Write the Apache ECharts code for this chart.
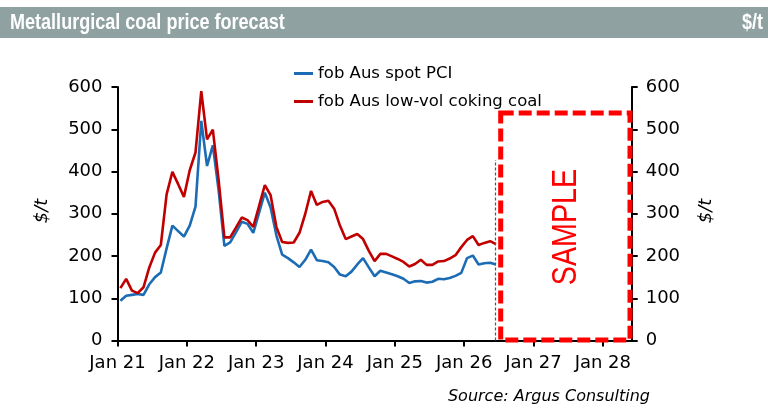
<!DOCTYPE html>
<html>
<head>
<meta charset="utf-8">
<script src="https://cdn.jsdelivr.net/npm/echarts@6/dist/echarts.min.js"></script>
<style>
  html, body { margin: 0; padding: 0; background: #fff; }
  #main { width: 768px; height: 408px; }
</style>
</head>
<body>
<div id="main"></div>
<script>
// monthly prices, Jan 21 - Jun 26 ($/t)
var months = [
    '2021-01','2021-02','2021-03','2021-04','2021-05','2021-06','2021-07','2021-08','2021-09','2021-10','2021-11','2021-12',
    '2022-01','2022-02','2022-03','2022-04','2022-05','2022-06','2022-07','2022-08','2022-09','2022-10','2022-11','2022-12',
    '2023-01','2023-02','2023-03','2023-04','2023-05','2023-06','2023-07','2023-08','2023-09','2023-10','2023-11','2023-12',
    '2024-01','2024-02','2024-03','2024-04','2024-05','2024-06','2024-07','2024-08','2024-09','2024-10','2024-11','2024-12',
    '2025-01','2025-02','2025-03','2025-04','2025-05','2025-06','2025-07','2025-08','2025-09','2025-10','2025-11','2025-12',
    '2026-01','2026-02','2026-03','2026-04','2026-05','2026-06'
];
var spotPCI = [
    94, 106, 108, 110, 108, 133, 150, 161, 218, 272, 259, 246,
    272, 317, 520, 413, 462, 356, 224, 232, 256, 281, 276, 255,
    302, 350, 315, 249, 203, 195, 185, 174, 191, 215, 190, 188,
    185, 174, 156, 152, 163, 180, 195, 173, 152, 165, 161, 157,
    152, 146, 136, 140, 141, 137, 139, 146, 145, 148, 153, 160,
    195, 201, 180, 183, 184, 180
];
var lowVolCoking = [
    124, 146, 118, 112, 126, 173, 208, 226, 346, 399, 370, 340,
    403, 445, 590, 476, 499, 380, 244, 244, 267, 291, 285, 269,
    318, 368, 344, 269, 233, 231, 232, 255, 300, 354, 321, 328,
    331, 312, 272, 240, 246, 252, 240, 212, 188, 205, 205, 199,
    193, 186, 175, 181, 191, 179, 179, 187, 188, 194, 202, 221,
    238, 247, 226, 231, 235, 228
];
var xTickLabels = ['Jan 21', 'Jan 22', 'Jan 23', 'Jan 24', 'Jan 25', 'Jan 26', 'Jan 27', 'Jan 28'];
var forecastStart = '2026-06';   // grey dashed divider

// month number counted from Jan 21, plotted mid-month
function monthPos(s) {
    var p = s.split('-');
    return (parseInt(p[0]) - 2021) * 12 + parseInt(p[1]) - 1 + 0.5;
}
var pciData = [], cokingData = [];
for (var i = 0; i < months.length; i++) {
    pciData.push([monthPos(months[i]), spotPCI[i]]);
    cokingData.push([monthPos(months[i]), lowVolCoking[i]]);
}
var divX = monthPos(forecastStart) - 0.2;

var FONT = 'DejaVu Sans';
var axisCommon = {
    axisLine: { show: true, lineStyle: { color: '#000', width: 2 } },
    axisTick: { show: true, length: 6, lineStyle: { color: '#000', width: 2 } },
    splitLine: { show: false }
};

var chart = echarts.init(document.getElementById('main'));
chart.setOption({
    animation: false,
    backgroundColor: '#fff',
    grid: { left: 117.5, right: 136.3, top: 87, bottom: 67.5 },
    legend: {
        orient: 'vertical',
        left: 289,
        top: 60,
        icon: 'rect',
        itemWidth: 19,
        itemHeight: 3,
        itemGap: 11,
        textStyle: { fontFamily: FONT, fontSize: 16.5, color: '#000' },
        data: ['fob Aus spot PCI', 'fob Aus low-vol coking coal']
    },
    xAxis: Object.assign({
        type: 'value',
        min: 0,
        max: 89,
        interval: 12,
        axisLabel: {
            fontFamily: FONT, fontSize: 18, color: '#000', margin: 14,
            showMaxLabel: false,
            formatter: function (v) {
                return v % 12 === 0 ? (xTickLabels[v / 12] || '') : '';
            }
        }
    }, axisCommon),
    yAxis: [
        Object.assign({
            type: 'value', position: 'left', min: 0, max: 600, interval: 100,
            axisLabel: { fontFamily: FONT, fontSize: 18, color: '#000', margin: 15 }
        }, axisCommon),
        Object.assign({
            type: 'value', position: 'right', min: 0, max: 600, interval: 100,
            axisLabel: { fontFamily: FONT, fontSize: 18, color: '#000', margin: 14 }
        }, axisCommon)
    ],
    series: [
        {
            name: 'fob Aus spot PCI',
            type: 'line',
            data: pciData,
            showSymbol: false,
            color: '#1c6cb4',
            lineStyle: { width: 2.6 },
            markLine: {
                silent: true,
                symbol: 'none',
                label: { show: false },
                lineStyle: { color: '#555', width: 1.2, type: [3, 2] },
                data: [[{ coord: [divX, 0] }, { coord: [divX, 427] }]]
            }
        },
        {
            name: 'fob Aus low-vol coking coal',
            type: 'line',
            data: cokingData,
            showSymbol: false,
            color: '#c00000',
            lineStyle: { width: 2.6 }
        }
    ],
    graphic: [
        { type: 'rect', shape: { x: 0, y: 7, width: 768, height: 31 }, style: { fill: '#8fa1a1' } },
        // condensed look: squeeze the text horizontally
        { type: 'text', x: 10, y: 22.5, scaleX: 0.82,
          style: { text: 'Metallurgical coal price forecast', fill: '#fff', font: 'bold 22px "Liberation Sans"', verticalAlign: 'middle' } },
        { type: 'text', x: 763, y: 22.5, scaleX: 0.82,
          style: { text: '$/t', fill: '#fff', font: 'bold 22px "Liberation Sans"', align: 'right', verticalAlign: 'middle' } },
        { type: 'text', x: 42, y: 211, rotation: Math.PI / 2,
          style: { text: '$/t', fill: '#000', font: 'italic 18px "DejaVu Sans"', align: 'center', verticalAlign: 'middle' } },
        { type: 'text', x: 706, y: 211, rotation: Math.PI / 2,
          style: { text: '$/t', fill: '#000', font: 'italic 18px "DejaVu Sans"', align: 'center', verticalAlign: 'middle' } },
        { type: 'text', x: 650, y: 397,
          style: { text: 'Source: Argus Consulting', fill: '#000', font: 'italic 16px "DejaVu Sans"', align: 'right', verticalAlign: 'middle' } },
        { type: 'rect', z: 100, shape: { x: 500.7, y: 113, width: 129.3, height: 227 },
          style: { fill: '#fff', stroke: '#ff0000', lineWidth: 5, lineDash: [13, 5] } },
        { type: 'text', z: 101, x: 566, y: 227, rotation: Math.PI / 2, scaleX: 0.82,
          style: { text: 'SAMPLE', fill: '#ff0000', font: '35px "Liberation Sans"', align: 'center', verticalAlign: 'middle' } }
    ]
});
</script>
</body>
</html>
